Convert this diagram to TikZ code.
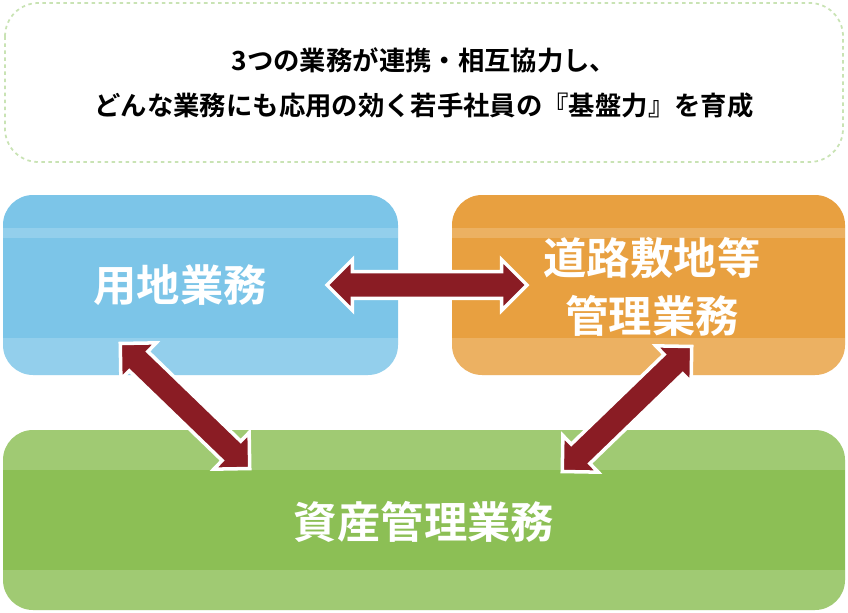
\documentclass[tikz,border=0pt]{standalone}
\usepackage{fontspec}
\setmainfont{Noto Sans CJK JP}[BoldFont={* Bold}]
\usetikzlibrary{shapes.arrows}
\definecolor{titlegreen}{HTML}{C9E3B4}
\definecolor{boxblue}{HTML}{7CC5E8}
\definecolor{boxorange}{HTML}{E8A040}
\definecolor{boxgreen}{HTML}{8CBF55}
\definecolor{arrowred}{HTML}{8A1C24}
\begin{document}
\begin{tikzpicture}[x=0.03cm, y=-0.03cm,
area/.style={rounded corners=0.9cm, font=\bfseries\fontsize{37}{50}\selectfont,
  text=white, align=center, inner sep=0pt},
band/.style={fill=white, opacity=0.18},
link/.style={double arrow, draw=white, line width=3pt, fill=arrowred,
  minimum height=6cm, double arrow head extend=0.36cm,
  inner sep=0pt}
]
\useasboundingbox (0,0) rectangle (848,612);
% headline
\draw[titlegreen, dashed, line width=1.5pt, rounded corners=1cm] (5,3) rectangle (843,162);
\node[font=\bfseries\fontsize{22.5}{38}\selectfont, align=center] (head) at (424,83)
  {3つの業務が連携・相互協力し、\\どんな業務にも応用の効く若手社員の『基盤力』を育成};
% areas
\fill[boxblue, rounded corners=0.9cm] (3,195) rectangle (398,375);
\fill[band] (3,228) rectangle (398,238);
\fill[band] (3,338) rectangle (398,375);
\node[area] (land) at (180,285) {用地業務};
\fill[boxorange, rounded corners=0.9cm] (452,195) rectangle (845,375);
\fill[band] (452,228) rectangle (845,238);
\fill[band] (452,338) rectangle (845,375);
\node[area] (road) at (652,287) {道路敷地等\\管理業務};
\fill[boxgreen, rounded corners=0.9cm] (3,430) rectangle (845,610);
\fill[band] (3,430) rectangle (845,470);
\fill[band] (3,570) rectangle (845,610);
\node[area] (asset) at (424,522) {資産管理業務};
% links
\node[link] (landroad) at (427,285) {\rule{0pt}{0.7cm}};
\node[link, minimum height=5.4cm, rotate=-44] (landasset) at (185,406) {\rule{0pt}{0.7cm}};
\node[link, minimum height=5.4cm, rotate=44] (roadasset) at (627,409) {\rule{0pt}{0.7cm}};
\end{tikzpicture}
\end{document}
